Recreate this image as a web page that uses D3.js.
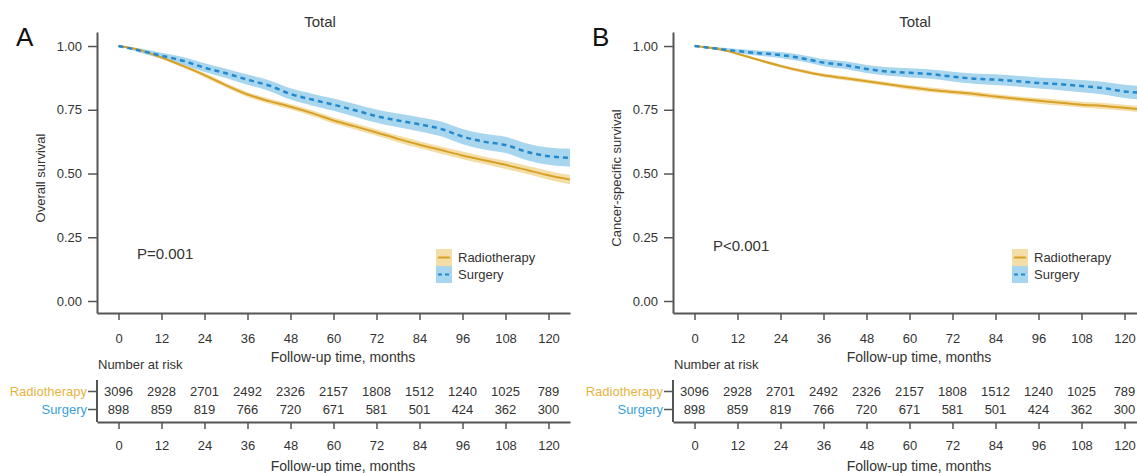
<!DOCTYPE html>
<meta charset="utf-8">
<style>
    body { margin: 0; background: #fff; }
    svg { font-family: "Liberation Sans", Arial, sans-serif; }
    text { fill: #333; }
    .axis path, .axis line { stroke: #555; }
    .axis path { stroke-width: 2; }
    .axis line { stroke-width: 1.5; }
    .axis text { font-size: 13px; fill: #333; }
</style>
<body>
<script src="https://d3js.org/d3.v7.min.js"></script>
<script>

    var times = [0, 6, 12, 18, 24, 30, 36, 42, 48, 54, 60, 66, 72, 78, 84, 90, 96, 102, 108, 114, 120, 126];

    // A: overall survival
    var osRadio   = [1.0, 0.984, 0.955, 0.922, 0.886, 0.846, 0.81, 0.784, 0.762, 0.737, 0.708, 0.685, 0.661, 0.636, 0.613, 0.592, 0.571, 0.552, 0.534, 0.514, 0.493, 0.476];
    var osSurgery = [1.0, 0.982, 0.962, 0.942, 0.915, 0.893, 0.868, 0.845, 0.812, 0.79, 0.77, 0.748, 0.725, 0.708, 0.693, 0.675, 0.645, 0.625, 0.612, 0.585, 0.568, 0.562];
    // B: cancer-specific survival
    var cssRadio   = [1.0, 0.99, 0.97, 0.945, 0.922, 0.902, 0.885, 0.874, 0.862, 0.85, 0.838, 0.828, 0.82, 0.812, 0.802, 0.793, 0.785, 0.778, 0.77, 0.765, 0.758, 0.75];
    var cssSurgery = [1.0, 0.99, 0.98, 0.972, 0.965, 0.952, 0.935, 0.925, 0.91, 0.9, 0.895, 0.89, 0.88, 0.872, 0.868, 0.862, 0.855, 0.85, 0.843, 0.835, 0.822, 0.815];

    // half width of the 95% CI bands
    var ciRadio   = [0, 0.004, 0.006, 0.007, 0.008, 0.009, 0.01, 0.01, 0.011, 0.011, 0.012, 0.012, 0.013, 0.013, 0.014, 0.014, 0.015, 0.015, 0.016, 0.016, 0.017, 0.018];
    var ciSurgery = [0, 0.008, 0.012, 0.015, 0.017, 0.018, 0.02, 0.021, 0.022, 0.023, 0.024, 0.025, 0.026, 0.027, 0.028, 0.029, 0.03, 0.031, 0.032, 0.033, 0.034, 0.035];
    var cssCiRadio   = [0, 0.003, 0.004, 0.005, 0.006, 0.007, 0.007, 0.008, 0.008, 0.008, 0.009, 0.009, 0.009, 0.01, 0.01, 0.01, 0.011, 0.011, 0.011, 0.012, 0.012, 0.012];
    var cssCiSurgery = [0, 0.006, 0.008, 0.01, 0.012, 0.013, 0.014, 0.015, 0.016, 0.017, 0.018, 0.018, 0.019, 0.02, 0.021, 0.021, 0.022, 0.023, 0.024, 0.025, 0.026, 0.027];

    var groups = ["Radiotherapy", "Surgery"];
    var riskTimes = [0, 12, 24, 36, 48, 60, 72, 84, 96, 108, 120];
    var riskRadio   = [3096, 2928, 2701, 2492, 2326, 2157, 1808, 1512, 1240, 1025, 789];
    var riskSurgery = [898, 859, 819, 766, 720, 671, 581, 501, 424, 362, 300];
    var yTicks = [0, 0.25, 0.5, 0.75, 1];

    var colors = {
        Radiotherapy: {line: "#D9A027", band: "#F3DEA8", label: "#E5B443"},
        Surgery: {line: "#2388CC", band: "#A8D6EF", label: "#3A9FDB"}
    };

    var panels = [
        {letter: "A", left: 97, ylabel: "Overall survival", p: "P=0.001", pY: 259, titleX: 320,
         radio: osRadio, surgery: osSurgery, ciR: ciRadio, ciS: ciSurgery},
        {letter: "B", left: 673, ylabel: "Cancer-specific survival", p: "P<0.001", pY: 251, titleX: 915,
         radio: cssRadio, surgery: cssSurgery, ciR: cssCiRadio, ciS: cssCiSurgery}
    ];

    var svg = d3.select("body").append("svg")
        .attr("width", 1137)
        .attr("height", 473);

    panels.forEach(function(pn) {
        var g = svg.append("g");
        var x = d3.scaleLinear().domain([-6, 126]).range([pn.left, pn.left + 473]);
        var y = d3.scaleLinear().domain([-0.047, 1.055]).range([313, 32]);

        // panel letter + title
        g.append("text").attr("x", pn.left - 81).attr("y", 46)
            .style("font-size", "26px").style("fill", "#111").text(pn.letter);
        g.append("text").attr("x", pn.titleX).attr("y", 27)
            .attr("text-anchor", "middle").style("font-size", "15px").text("Total");

        // CI bands then curves
        var series = [
            {name: "Radiotherapy", v: pn.radio, ci: pn.ciR},
            {name: "Surgery", v: pn.surgery, ci: pn.ciS}
        ];
        series.forEach(function(s) {
            var pts = times.map(function(t, i) { return {t: t, v: s.v[i], h: s.ci[i]}; });
            g.append("path").datum(pts)
                .attr("fill", colors[s.name].band)
                .attr("d", d3.area()
                    .curve(d3.curveMonotoneX)
                    .x(function(d) { return x(d.t); })
                    .y0(function(d) { return y(d.v - d.h); })
                    .y1(function(d) { return y(d.v + d.h); }));
        });
        series.forEach(function(s) {
            var pts = times.map(function(t, i) { return {t: t, v: s.v[i]}; });
            g.append("path").datum(pts)
                .attr("fill", "none")
                .attr("stroke", colors[s.name].line)
                .attr("stroke-width", s.name == "Surgery" ? 2.5 : 2)
                .attr("stroke-dasharray", s.name == "Surgery" ? "5,4" : null)
                .attr("d", d3.line()
                    .curve(d3.curveMonotoneX)
                    .x(function(d) { return x(d.t); })
                    .y(function(d) { return y(d.v); }));
        });

        // axes
        g.append("g").attr("class", "axis")
            .attr("transform", "translate(" + pn.left + ",0)")
            .call(d3.axisLeft(y).tickValues(yTicks).tickFormat(d3.format(".2f"))
                .tickSize(9).tickPadding(6).tickSizeOuter(0));
        g.append("g").attr("class", "axis")
            .attr("transform", "translate(0,313)")
            .call(d3.axisBottom(x).tickValues(riskTimes).tickSize(7).tickPadding(14).tickSizeOuter(0));

        g.append("text").attr("x", pn.left - 52).attr("y", 178)
            .attr("transform", "rotate(-90," + (pn.left - 52) + ",178)")
            .attr("text-anchor", "middle").style("font-size", "13px").text(pn.ylabel);
        g.append("text").attr("x", pn.left + 246).attr("y", 362)
            .attr("text-anchor", "middle").style("font-size", "14px").text("Follow-up time, months");

        g.append("text").attr("x", pn.left + 40).attr("y", pn.pY)
            .style("font-size", "15px").text(pn.p);

        // legend
        var lg = g.append("g").attr("transform", "translate(" + (pn.left + 339) + ",249)");
        groups.forEach(function(name, i) {
            var row = lg.append("g").attr("transform", "translate(0," + (i * 17) + ")");
            row.append("rect").attr("width", 16).attr("height", 17).attr("fill", colors[name].band);
            row.append("line").attr("x1", 2).attr("x2", 14).attr("y1", 8.5).attr("y2", 8.5)
                .attr("stroke", colors[name].line).attr("stroke-width", 2)
                .attr("stroke-dasharray", name == "Surgery" ? "4,3" : null);
            row.append("text").attr("x", 22).attr("y", 13).style("font-size", "13px").text(name);
        });

        // number at risk table
        g.append("text").attr("x", pn.left + 1).attr("y", 369)
            .style("font-size", "13px").text("Number at risk");
        var ry = d3.scalePoint().domain(groups).range([391, 409]);
        var yAxisR = g.append("g").attr("class", "axis")
            .attr("transform", "translate(" + pn.left + ",0)")
            .call(d3.axisLeft(ry).tickSize(9).tickPadding(1).tickSizeOuter(0));
        yAxisR.select(".domain").attr("d", "M0,380V422");
        yAxisR.selectAll(".tick text").style("fill", function(d) { return colors[d].label; });

        g.append("g").attr("class", "axis")
            .attr("transform", "translate(0,422)")
            .call(d3.axisBottom(x).tickValues(riskTimes).tickSize(7).tickPadding(12).tickSizeOuter(0));
        g.append("text").attr("x", pn.left + 246).attr("y", 471)
            .attr("text-anchor", "middle").style("font-size", "14px").text("Follow-up time, months");

        [riskRadio, riskSurgery].forEach(function(vals, k) {
            g.selectAll(null).data(vals).enter().append("text")
                .attr("x", function(d, i) { return x(riskTimes[i]); })
                .attr("y", ry(groups[k]) + 5)
                .attr("text-anchor", "middle")
                .style("font-size", "13px")
                .text(function(d) { return d; });
        });
    });

</script>
</body>
